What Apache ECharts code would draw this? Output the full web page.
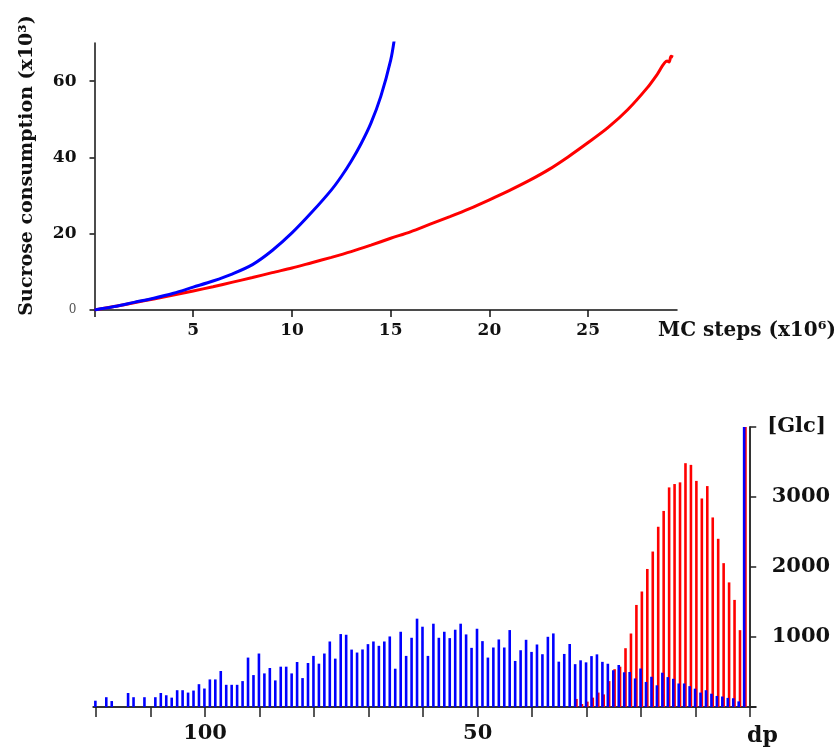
<!DOCTYPE html>
<html><head><meta charset="utf-8">
<script src="https://cdn.jsdelivr.net/npm/echarts@6/dist/echarts.min.js"></script>
<style>html,body{margin:0;padding:0;background:#fff}#c{width:837px;height:751px}</style>
</head><body><div id="c"></div>
<script>
// ---- Top panel: sucrose consumption vs MC steps ----
const blueSteps   = [0, 1, 2, 3, 4, 5, 6, 7, 8, 9, 10, 11, 12, 12.5, 13, 13.5, 14, 14.5, 15, 15.2];
const blueSucrose = [0, 0.9, 2.0, 3.1, 4.4, 6.0, 7.6, 9.5, 11.9, 15.6, 20.2, 25.6, 31.5, 35.0, 39.0, 43.6, 49.0, 56.0, 65.5, 71.5];
const redSteps    = [0, 1, 2, 3, 4, 5, 6, 7, 8, 9, 10, 11, 12, 13, 14, 15, 16, 17, 18, 19, 20, 21, 22, 23, 24, 25, 26, 27, 28, 28.5, 29.0, 29.1, 29.2, 29.3];
const redSucrose  = [0, 0.9, 1.9, 2.9, 3.9, 5.0, 6.1, 7.3, 8.5, 9.8, 11.0, 12.4, 13.8, 15.3, 17.0, 18.8, 20.5, 22.5, 24.5, 26.6, 28.9, 31.3, 33.9, 36.8, 40.2, 43.9, 47.8, 52.5, 58.3, 61.8, 65.3, 65.0, 66.5, 66.3];
const topXTicks  = [0, 5, 10, 15, 20, 25];
const topXLabels = [5, 10, 15, 20, 25];
const topYTicks  = [0, 20, 40, 60];

// ---- Bottom panel: [Glc] distribution by dp (dp = 1 .. 120) ----
const blueGlc = [
  4500, 80, 125, 130, 150, 158, 190, 240, 206, 262,
  298, 336, 336, 403, 427, 490, 310, 432, 358, 550,
  408, 500, 496, 600, 525, 618, 645, 752, 727, 638,
  667, 612, 900, 758, 648, 1051, 1003, 754, 893, 787,
  960, 811, 658, 1099, 850, 965, 850, 706, 941, 1118,
  845, 1037, 1190, 1104, 984, 1075, 989, 1190, 730, 1147,
  1262, 989, 730, 1075, 547, 1008, 936, 874, 936, 898,
  822, 778, 820, 1032, 1042, 691, 936, 764, 619, 730,
  629, 413, 643, 480, 576, 576, 380, 557, 480, 764,
  456, 706, 370, 317, 317, 317, 514, 394, 394, 264,
  326, 235, 206, 240, 240, 134, 168, 200, 140, 0,
  140, 0, 140, 200, 0, 0, 85, 140, 0, 90
];
const redGlc = [
  4500, 1098, 1530, 1780, 2055, 2403, 2708, 3156, 2979, 3230,
  3459, 3483, 3209, 3185, 3137, 2801, 2575, 2221, 1972, 1650,
  1458, 1050, 840, 576, 540, 370, 180, 206, 134, 77,
  43, 115
];
const dpTicks  = [0, 10, 20, 30, 40, 50, 60, 70, 80, 90, 100, 110, 120];
const dpLabels = [100, 50];
const glcLabels = [1000, 2000, 3000];

const serif = 'DejaVu Serif';
const txt = {fontFamily: serif, fontWeight: 'bold', color: '#111'};

function pairs(xs, ys) { return xs.map((x, i) => [x, ys[i]]); }
function bars(vals) {
  const out = [];
  vals.forEach((v, i) => { if (v > 0) out.push([i + 1, v]); });
  return out;
}

const chart = echarts.init(document.getElementById('c'));
chart.setOption({
  animation: false,
  backgroundColor: '#fff',
  title: [
    {text: 'MC steps (x10\u2076)', left: 658, top: 321, padding: 0,
     textStyle: Object.assign({fontSize: 20}, txt)},
    {text: 'dp', left: 747, top: 725, padding: 0,
     textStyle: Object.assign({fontSize: 22}, txt)}
  ],
  grid: [
    {left: 94.5, top: 43, width: 582.5, height: 267},
    {left: 93.3, top: 427, width: 662.4, height: 280}
  ],
  xAxis: [
    {
      gridIndex: 0, type: 'value', min: 0, max: 29.5,
      axisLine: {show: true, lineStyle: {color: '#111', width: 1.5}},
      axisTick: {show: true, customValues: topXTicks, length: 7, lineStyle: {color: '#111', width: 1.5}},
      axisLabel: Object.assign({customValues: topXLabels, margin: 12, fontSize: 17, formatter: v => String(v)}, txt),
      splitLine: {show: false}
    },
    {
      gridIndex: 1, type: 'value', inverse: true, min: -1, max: 120.5,
      axisLine: {show: true, lineStyle: {color: '#333', width: 2}},
      axisTick: {show: true, customValues: dpTicks, length: 10, lineStyle: {color: '#222', width: 1.5}},
      axisLabel: Object.assign({customValues: dpLabels, margin: 16, fontSize: 21, formatter: v => String(v)}, txt),
      splitLine: {show: false}
    }
  ],
  yAxis: [
    {
      gridIndex: 0, type: 'value', min: 0, max: 70,
      axisLine: {show: true, lineStyle: {color: '#111', width: 1.5}},
      axisTick: {show: true, customValues: topYTicks, length: 5, lineStyle: {color: '#111', width: 1.5}},
      axisLabel: Object.assign({
        customValues: topYTicks, margin: 18, fontSize: 17,
        formatter: v => v === 0 ? '{z|0}' : String(v),
        rich: {z: {fontFamily: serif, fontWeight: 'normal', fontSize: 12, color: '#555'}}
      }, txt),
      splitLine: {show: false},
      name: 'Sucrose consumption (x10\u00b3)', nameLocation: 'middle', nameGap: 58, nameMoveOverlap: false,
      nameTextStyle: Object.assign({fontSize: 19, padding: [0, 0, 0, 22]}, txt)
    },
    {
      gridIndex: 1, type: 'value', position: 'right', min: 0, max: 4000, interval: 1000,
      axisLine: {show: true, lineStyle: {color: '#333', width: 2}},
      axisTick: {show: true, length: 6, lineStyle: {color: '#222', width: 1.5}},
      axisLabel: Object.assign({customValues: glcLabels, margin: 16, fontSize: 21, formatter: v => String(v)}, txt),
      splitLine: {show: false},
      name: '[Glc]', nameLocation: 'end', nameGap: 0, nameMoveOverlap: false,
      nameTextStyle: Object.assign({fontSize: 21, align: 'left', verticalAlign: 'middle', padding: [10, 0, 0, 17]}, txt)
    }
  ],
  series: [
    {
      type: 'line', xAxisIndex: 0, yAxisIndex: 0, data: pairs(redSteps, redSucrose),
      showSymbol: false, smooth: 0.3, clip: true,
      lineStyle: {color: '#ff0000', width: 3}, itemStyle: {color: '#ff0000'}
    },
    {
      type: 'line', xAxisIndex: 0, yAxisIndex: 0, data: pairs(blueSteps, blueSucrose),
      showSymbol: false, smooth: 0.3, clip: true,
      lineStyle: {color: '#0000ff', width: 3}, itemStyle: {color: '#0000ff'}
    },
    {
      type: 'bar', xAxisIndex: 1, yAxisIndex: 1, data: bars(blueGlc),
      barWidth: 2.6, barGap: '-50%', z: 3, clip: true,
      itemStyle: {color: '#0000ff'}
    },
    {
      type: 'bar', xAxisIndex: 1, yAxisIndex: 1, data: bars(redGlc),
      barWidth: 2.6, barGap: '-50%', z: 2, clip: true,
      itemStyle: {color: '#ff0000'}
    }
  ]
});
</script>
</body></html>
